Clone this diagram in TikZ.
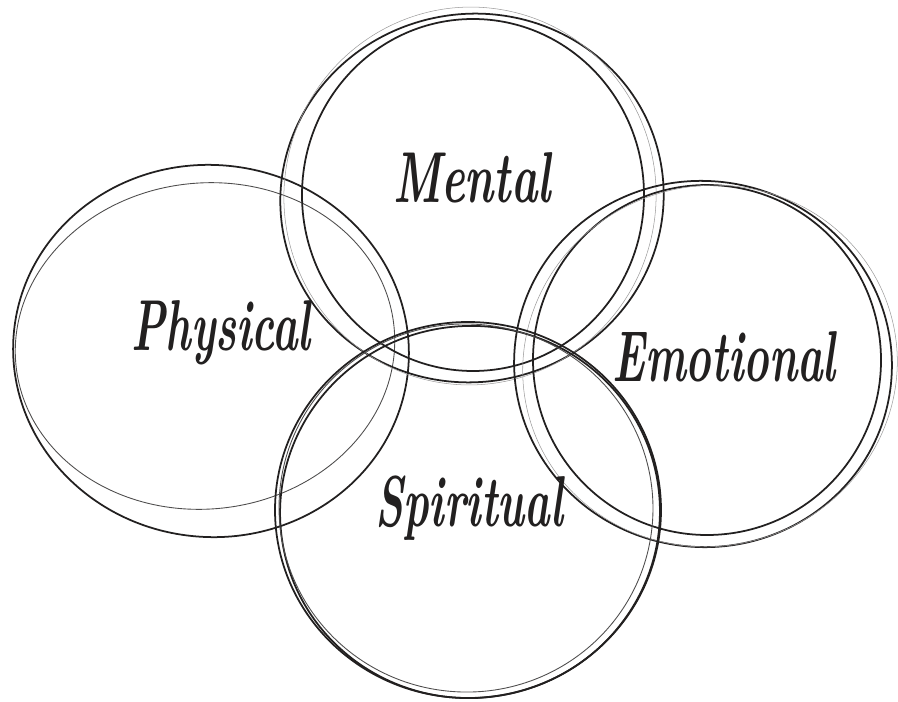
\documentclass[tikz,border=0pt]{standalone}
\usetikzlibrary{positioning}

\definecolor{ink}{RGB}{34, 32, 32}

\begin{document}
\begin{tikzpicture}[
    x=0.02cm, y=-0.02cm,
    % --- Style Definitions ---
    stroke/.style={draw=ink, line width=1pt},
    faint/.style={draw=ink!80, line width=0.5pt},
    hair/.style={draw=ink!45, line width=0.3pt},
    word/.style={
        font=\fontsize{41}{44}\selectfont\bfseries\itshape,
        text=ink, inner sep=0pt
    }
]
\useasboundingbox (0,0) rectangle (898,702);

% ================= Physical =================
\draw[stroke, rotate around={-6:(211,351)}] (211,351) ellipse (198 and 186);
\draw[faint, rotate around={6:(205,346)}] (205,346) ellipse (190 and 163);

% ================= Mental =================
\draw[stroke] (473,195) ellipse (171 and 176);
\draw[stroke, rotate around={12:(472,198)}] (472,198) ellipse (192 and 184);
\draw[hair, rotate around={-10:(470,196)}] (470,196) ellipse (186 and 189);

% ================= Emotional =================
\draw[stroke, rotate around={4:(707,360)}] (707,360) ellipse (174 and 175);
\draw[stroke, rotate around={-8:(703,364)}] (703,364) ellipse (189 and 183);
\draw[hair, rotate around={18:(710,366)}] (710,366) ellipse (188 and 180);

% ================= Spiritual =================
\draw[stroke] (468,510) ellipse (193 and 188);
\draw[stroke, rotate around={8:(470,512)}] (470,512) ellipse (190 and 186);
\draw[faint, rotate around={-6:(466,508)}] (466,508) ellipse (187 and 184);

% ================= Labels =================
\node[word] (mental) at (472,178) {\scalebox{0.62}[1]{Mental}};
\node[word] (physical) at (221,333) {\scalebox{0.6}[1]{Physical}};
\node[word] (emotional) at (724,357) {\scalebox{0.6}[1]{Emotional}};
\node[word] (spiritual) at (469,508) {\scalebox{0.6}[1]{Spiritual}};

\end{tikzpicture}
\end{document}
